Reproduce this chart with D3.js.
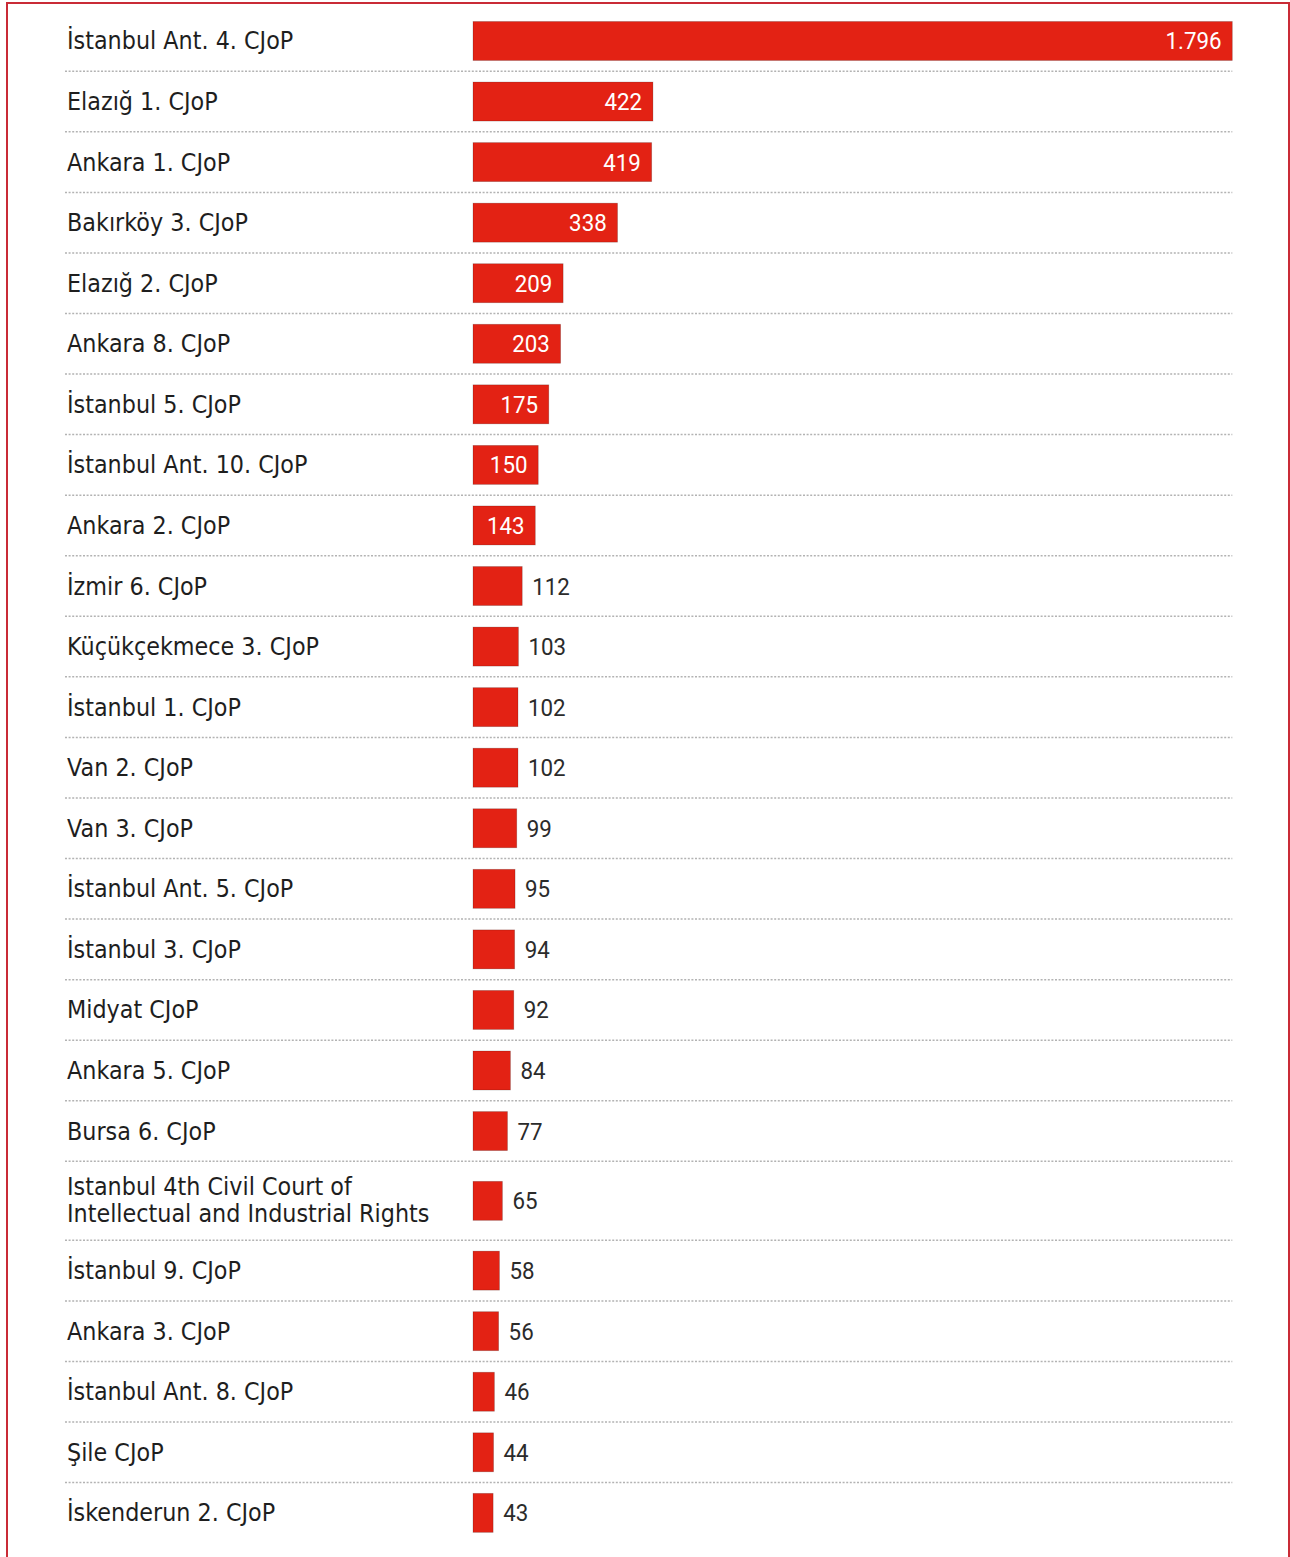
<!DOCTYPE html>
<html>
<head>
<meta charset="utf-8">
<script src="https://cdn.jsdelivr.net/npm/d3@7"></script>
<style>
  html, body { margin: 0; padding: 0; background: #fff; }
  svg { display: block; }
</style>
</head>
<body>
<div id="chart"></div>
<script>
// Court names (a "\n" splits a name over two lines) and case counts
const courts = [
  "İstanbul Ant. 4. CJoP",
  "Elazığ 1. CJoP",
  "Ankara 1. CJoP",
  "Bakırköy 3. CJoP",
  "Elazığ 2. CJoP",
  "Ankara 8. CJoP",
  "İstanbul 5. CJoP",
  "İstanbul Ant. 10. CJoP",
  "Ankara 2. CJoP",
  "İzmir 6. CJoP",
  "Küçükçekmece 3. CJoP",
  "İstanbul 1. CJoP",
  "Van 2. CJoP",
  "Van 3. CJoP",
  "İstanbul Ant. 5. CJoP",
  "İstanbul 3. CJoP",
  "Midyat CJoP",
  "Ankara 5. CJoP",
  "Bursa 6. CJoP",
  "Istanbul 4th Civil Court of\nIntellectual and Industrial Rights",
  "İstanbul 9. CJoP",
  "Ankara 3. CJoP",
  "İstanbul Ant. 8. CJoP",
  "Şile CJoP",
  "İskenderun 2. CJoP"
];
const counts = [1796, 422, 419, 338, 209, 203, 175, 150, 143, 112, 103, 102, 102, 99, 95, 94, 92, 84, 77, 65, 58, 56, 46, 44, 43];

const W = 1290, H = 1557;
const labelX = 67, barX = 473, barMaxX = 1232.3;
const rowTop0 = 10.7, rowH = 60.56, extraLine = 18.44, barH = 39;
const sx = 0.93; // horizontal squeeze on text

const trLocale = d3.formatLocale({ decimal: ",", thousands: ".", grouping: [3], currency: ["", " ₺"] });
const fmt = trLocale.format(",d");

// bar length; every bar keeps a 2px stub so tiny values stay visible
const x = d3.scaleLinear().domain([0, d3.max(counts)]).range([2, barMaxX - barX]);

const rows = courts.map((name, i) => ({ lines: name.split("\n"), value: counts[i] }));
let acc = rowTop0;
rows.forEach(r => {
  r.h = rowH + extraLine * (r.lines.length - 1);
  r.top = acc;
  r.cy = acc + r.h / 2;
  acc += r.h;
});

const svg = d3.select("#chart").append("svg").attr("width", W).attr("height", H);

// frame
svg.append("rect")
  .attr("x", 7).attr("y", 3).attr("width", 1282).attr("height", 1700)
  .attr("fill", "none").attr("stroke", "#c92b36").attr("stroke-width", 2);

// dotted separators between rows
svg.append("g").selectAll("line")
  .data(rows.slice(0, -1))
  .join("line")
  .attr("x1", 65).attr("x2", barMaxX)
  .attr("y1", d => d.top + d.h).attr("y2", d => d.top + d.h)
  .attr("stroke", "#b3b3b3").attr("stroke-width", 1.5)
  .attr("stroke-dasharray", "2,1.6");

// bars
svg.append("g").selectAll("rect")
  .data(rows)
  .join("rect")
  .attr("x", barX)
  .attr("y", d => d.cy - barH / 2)
  .attr("width", d => x(d.value))
  .attr("height", barH)
  .attr("fill", "#e32214")
  .attr("stroke", "rgba(0,0,0,0.22)")
  .attr("stroke-width", 0.8);

// court labels
const lab = svg.append("g").selectAll("g")
  .data(rows)
  .join("g")
  .attr("transform", d => `translate(${labelX},${d.cy}) scale(${sx},1)`);
lab.each(function (d) {
  const n = d.lines.length;
  const first = n === 1 ? 8.5 : -6;
  d3.select(this).selectAll("text")
    .data(d.lines)
    .join("text")
    .attr("x", 0)
    .attr("y", (t, j) => first + j * 27)
    .attr("font-family", "'DejaVu Sans', sans-serif")
    .attr("font-size", 24)
    .attr("fill", "#1e1e1e")
    .text(t => t);
});

// value labels: inside the bar when it is wide enough, otherwise after it
const inside = d => x(d.value) > 55;
svg.append("g").selectAll("text")
  .data(rows)
  .join("text")
  .attr("transform", d => {
    const end = barX + x(d.value);
    const tx = inside(d) ? end - 10.8 : end + 10;
    return `translate(${tx},${d.cy + 8.5}) scale(${sx},1)`;
  })
  .attr("text-anchor", d => inside(d) ? "end" : "start")
  .attr("font-family", "Roboto, sans-serif")
  .attr("font-size", 24)
  .attr("fill", d => inside(d) ? "#ffffff" : "#2b2b2b")
  .text(d => fmt(d.value));
</script>
</body>
</html>
